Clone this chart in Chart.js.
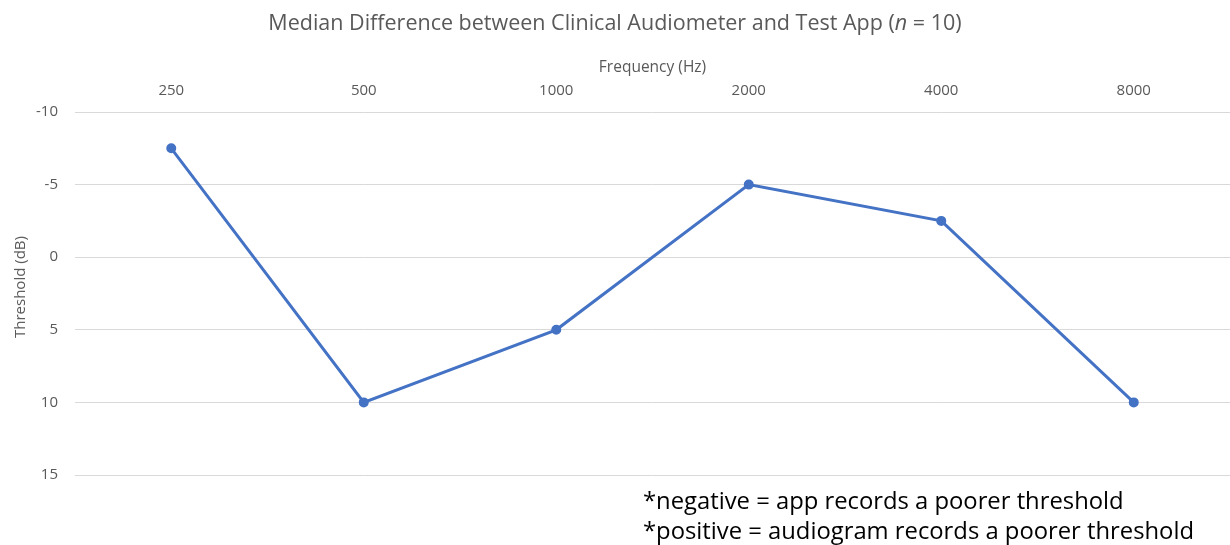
<!DOCTYPE html>
<html>
<head>
<meta charset="utf-8">
<script src="https://cdn.jsdelivr.net/npm/chart.js@4.4.0/dist/chart.umd.min.js"></script>
<style>
  html, body { margin: 0; padding: 0; background: #fff; }
  #wrap { position: relative; width: 1230px; height: 545px; font-family: "Open Sans", "Liberation Sans", sans-serif; }
  #titulo {
    position: absolute; left: 0; top: 7px; width: 1230px; text-align: center;
    font-size: 21.5px; line-height: 30px; color: #595959; white-space: nowrap;
  }
  #ejeY {
    position: absolute; left: 19px; top: 287px;
    transform: translate(-50%, -50%) rotate(-90deg);
    font-size: 15px; color: #595959; white-space: nowrap;
  }
  #note {
    position: absolute; left: 643px; top: 485px;
    font-size: 23.8px; line-height: 30px; color: #000; white-space: nowrap;
  }
</style>
</head>
<body>
<div id="wrap">
  <canvas id="myChart" width="1230" height="545"></canvas>
  <div id="titulo">Median Difference between Clinical Audiometer and Test App (<i>n</i> = 10)</div>
  <div id="ejeY">Threshold (dB)</div>
  <div id="note">*negative = app records a poorer threshold<br>*positive = audiogram records a poorer threshold</div>
</div>
<script>
let frecuencias = ["250", "500", "1000", "2000", "4000", "8000"];
let diferencias = [-7.5, 10, 5, -5, -2.5, 10];
let yMin = -10;
let yMax = 15;
let yPaso = 5;

let fuente = "'Open Sans', 'Liberation Sans', sans-serif";
let gris = "#595959";

let lineChart = new Chart("myChart", {
  type: "line",
  data: {
    labels: frecuencias,
    datasets: [
      {
        data: diferencias,
        borderColor: "#4472C4",
        backgroundColor: "#4472C4",
        borderWidth: 3,
        pointRadius: 3.5,
        pointBackgroundColor: "#4472C4",
        tension: 0,
      },
    ],
  },
  options: {
    responsive: false,
    animation: false,
    layout: { autoPadding: false, padding: { left: 0, right: 0, top: 34, bottom: 70 } },
    plugins: {
      legend: { display: false },
      tooltip: { enabled: false },
      title: { display: false },
    },
    scales: {
      x: {
        position: "top",
        offset: true,
        grid: { display: false, drawTicks: false },
        border: { display: false },
        ticks: { color: gris, font: { family: fuente, size: 15 }, padding: 12 },
        title: {
          display: true,
          text: "Frequency (Hz)",
          color: gris,
          font: { family: fuente, size: 15.5 },
          padding: { top: 24, bottom: 0 },
        },
        afterFit: function (scale) {
          scale.height = 78; // para que el área empiece en y=112
        },
      },
      y: {
        reverse: true,
        min: yMin,
        max: yMax,
        grid: { color: "#d9d9d9", lineWidth: 1, drawTicks: false },
        border: { display: false },
        ticks: { stepSize: yPaso, color: gris, font: { family: fuente, size: 15 }, padding: 17 },
        afterFit: function (scale) {
          scale.width = 75;
        },
      },
    },
  },
});
</script>
</body>
</html>
